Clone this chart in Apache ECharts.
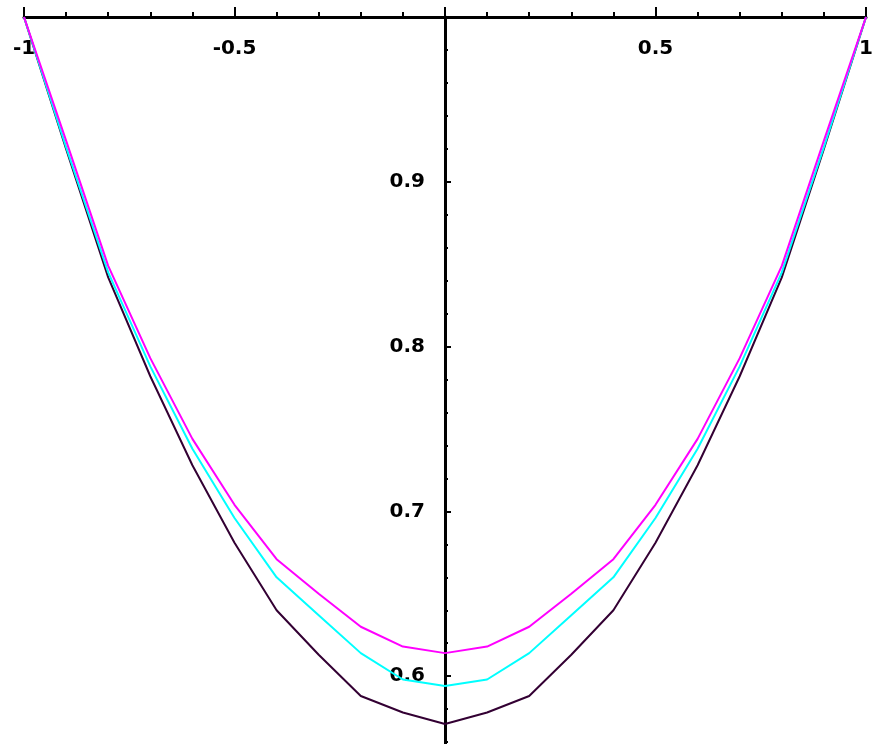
<!DOCTYPE html>
<html>
<head>
<meta charset="utf-8">
<script src="https://cdn.jsdelivr.net/npm/echarts@6/dist/echarts.min.js"></script>
<style>
  html, body { margin: 0; padding: 0; background: #fff; }
  #chart { width: 894px; height: 744px; }
</style>
</head>
<body>
<div id="chart"></div>
<script>
  // sample positions (x) and curve values
  const xs = [-1, -0.9, -0.8, -0.7, -0.6, -0.5, -0.4, -0.3, -0.2, -0.1, 0,
              0.1, 0.2, 0.3, 0.4, 0.5, 0.6, 0.7, 0.8, 0.9, 1];
  const darkVals = [1.0, 0.920, 0.842, 0.782, 0.728, 0.681, 0.640, 0.613, 0.588, 0.578, 0.571,
                    0.578, 0.588, 0.613, 0.640, 0.681, 0.728, 0.782, 0.842, 0.920, 1.0];
  const cyanVals = [1.0, 0.921, 0.845, 0.788, 0.738, 0.696, 0.660, 0.637, 0.614, 0.598, 0.594,
                    0.598, 0.614, 0.637, 0.660, 0.696, 0.738, 0.788, 0.845, 0.921, 1.0];
  const magentaVals = [1.0, 0.925, 0.849, 0.793, 0.744, 0.704, 0.671, 0.650, 0.630, 0.618, 0.614,
                       0.618, 0.630, 0.650, 0.671, 0.704, 0.744, 0.793, 0.849, 0.925, 1.0];
  const xLabels = ['-1', '-0.5', '', '0.5', '1'];   // at -1, -0.5, 0, 0.5, 1
  const yLabels = ['0.5', '0.6', '0.7', '0.8', '0.9', ''];

  const LABEL_FONT = { color: '#000', fontFamily: 'DejaVu Sans', fontWeight: 'bold', fontSize: 20 };

  function pairs(vals) { return xs.map((x, i) => [x, vals[i]]); }
  function curve(vals, color) {
    return { type: 'line', data: pairs(vals), symbol: 'none', smooth: false,
             lineStyle: { color, width: 2 }, z: 3 };
  }

  const GRID_LEFT = 24, GRID_W = 842;
  const chart = echarts.init(document.getElementById('chart'));
  chart.setOption({
    animation: false,
    backgroundColor: '#fff',
    // grid runs past the bottom edge so that y min can be a round 0.5
    grid: { left: GRID_LEFT, top: 17, width: GRID_W, height: 824, containLabel: false, outerBoundsMode: 'none' },
    xAxis: {
      type: 'value', position: 'top', min: -1, max: 1, interval: 0.5,
      axisLine: { onZero: false, lineStyle: { color: '#000', width: 3 } },
      axisTick: { show: true, length: 10, lineStyle: { color: '#000', width: 2 } },
      minorTick: { show: true, splitNumber: 5, length: 5, lineStyle: { color: '#000', width: 2 } },
      splitLine: { show: false },
      axisLabel: Object.assign({ inside: true, margin: 22,
        formatter: (v) => xLabels[Math.round((v + 1) * 2)] || '' }, LABEL_FONT),
    },
    yAxis: {
      type: 'value', min: 0.5, max: 1, interval: 0.1,
      position: 'left', offset: -GRID_W / 2,   // sit on x = 0, labels included
      axisLine: { onZero: false, lineStyle: { color: '#000', width: 3 } },
      axisTick: { show: true, inside: true, length: 6, lineStyle: { color: '#000', width: 2 } },
      minorTick: { show: true, splitNumber: 5, length: 3, lineStyle: { color: '#000', width: 2 } },
      splitLine: { show: false },
      axisLabel: Object.assign({ margin: 20,
        formatter: (v) => yLabels[Math.round((v - 0.5) * 10)] || '' }, LABEL_FONT),
    },
    series: [
      curve(darkVals, '#330033'),
      curve(cyanVals, '#00ffff'),
      curve(magentaVals, '#ff00ff'),
    ],
  });
</script>
</body>
</html>
